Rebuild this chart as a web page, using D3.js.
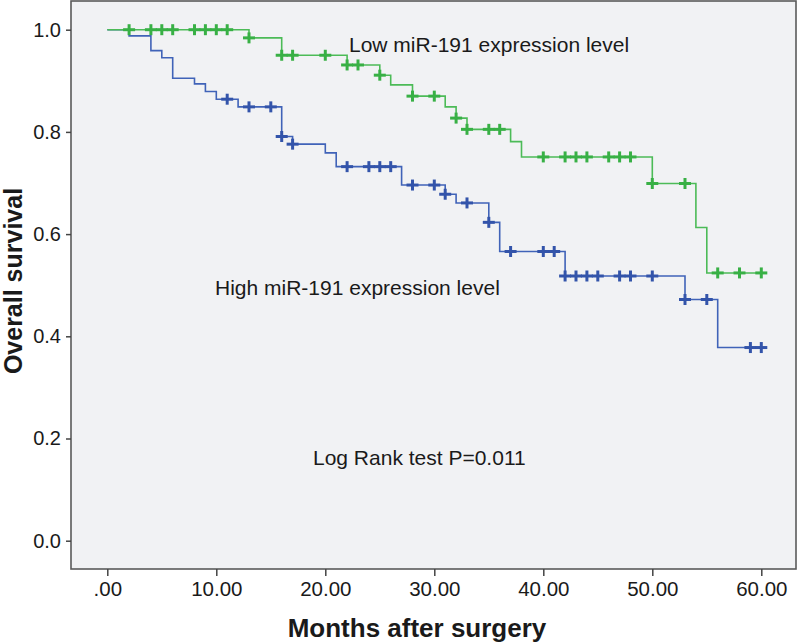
<!DOCTYPE html>
<html><head><meta charset="utf-8">
<script src="https://cdn.jsdelivr.net/npm/d3@7"></script>
<style>body{margin:0;background:#fff;}svg{display:block;font-family:Arial,"Liberation Sans",sans-serif;}</style>
</head><body>
<svg id="c" width="800" height="642"></svg>
<script>
// ---- data ----
const xTickValues = [0, 10, 20, 30, 40, 50, 60];
const xTickLabels = [".00", "10.00", "20.00", "30.00", "40.00", "50.00", "60.00"];
const yTickValues = [0, 0.2, 0.4, 0.6, 0.8, 1.0];
const yTickLabels = ["0.0", "0.2", "0.4", "0.6", "0.8", "1.0"];

const lowTimes = [0, 13, 16, 22, 25, 26, 28, 31, 32, 33, 37, 38, 50, 54, 55];
const lowSurv  = [1.0, 0.984, 0.950, 0.931, 0.911, 0.892, 0.870, 0.849, 0.827, 0.805, 0.781, 0.751, 0.699, 0.613, 0.524];
const lowCensor = [2, 4, 5, 6, 8, 9, 10, 11, 13, 16, 17, 20, 22, 23, 25, 28, 30, 32, 33, 35, 36, 40, 42, 43, 44, 46, 47, 48, 50, 53, 56, 58, 60];
const lowEnd = 60;

const highTimes = [0, 2, 4, 5, 6, 8, 9, 10, 12, 16, 17, 20, 21, 27, 31, 32, 35, 36, 42, 53, 56];
const highSurv  = [1.0, 0.988, 0.959, 0.945, 0.905, 0.894, 0.879, 0.864, 0.849, 0.791, 0.776, 0.759, 0.732, 0.696, 0.678, 0.661, 0.623, 0.566, 0.518, 0.472, 0.378];
const highCensor = [11, 13, 15, 16, 17, 22, 24, 25, 26, 28, 30, 31, 33, 35, 37, 40, 41, 42, 43, 44, 45, 47, 48, 50, 53, 55, 59, 60];
const highEnd = 60;

const lowLabel = "Low miR-191 expression level";
const highLabel = "High miR-191 expression level";
const testLabel = "Log Rank test P=0.011";
const xTitle = "Months after surgery";
const yTitle = "Overall survival";

// ---- layout ----
const svg = d3.select("#c");
const box = {left: 71, top: 1, right: 796, bottom: 569};
const x = d3.scaleLinear().domain([0, 60]).range([107.3, 761.3]);
const y = d3.scaleLinear().domain([0, 1]).range([540.7, 29.7]);

svg.append("rect").attr("x", box.left).attr("y", box.top)
  .attr("width", box.right - box.left).attr("height", box.bottom - box.top)
  .attr("fill", "#f1f2f4").attr("stroke", "#5a5a5a").attr("stroke-width", 1.6);

// axes
const xAxis = d3.axisBottom(x).tickValues(xTickValues)
  .tickFormat((d, i) => xTickLabels[i]).tickSize(7).tickSizeOuter(0).tickPadding(5);
const gx = svg.append("g").attr("transform", `translate(0,${box.bottom})`).call(xAxis);
gx.select(".domain").remove();
gx.selectAll("line").attr("stroke", "#444").attr("stroke-width", 1.5);
gx.selectAll("text").attr("font-size", 20.5).attr("fill", "#1a1a1a").attr("font-family", "Arial, 'Liberation Sans', sans-serif");

const yAxis = d3.axisLeft(y).tickValues(yTickValues)
  .tickFormat((d, i) => yTickLabels[i]).tickSize(5).tickSizeOuter(0).tickPadding(5);
const gy = svg.append("g").attr("transform", `translate(${box.left},0)`).call(yAxis);
gy.select(".domain").remove();
gy.selectAll("line").attr("stroke", "#444").attr("stroke-width", 1.5);
gy.selectAll("text").attr("font-size", 20).attr("fill", "#1a1a1a").attr("font-family", "Arial, 'Liberation Sans', sans-serif");

// titles
svg.append("text").attr("x", 417).attr("y", 637).attr("text-anchor", "middle")
  .attr("font-size", 26).attr("font-weight", "bold").attr("fill", "#1a1a1a").text(xTitle);
svg.append("text").attr("transform", "translate(22,281) rotate(-90)").attr("text-anchor", "middle")
  .attr("font-size", 25).attr("font-weight", "bold").attr("fill", "#1a1a1a").text(yTitle);

// curves
function stepPoints(times, surv, end) {
  const pts = [];
  times.forEach((t, i) => {
    if (i > 0) pts.push([t, surv[i - 1]]);
    pts.push([t, surv[i]]);
  });
  pts.push([end, surv[surv.length - 1]]);
  return pts;
}
function survAt(times, surv, t) {
  let s = surv[0];
  for (let i = 0; i < times.length; i++) if (times[i] <= t) s = surv[i];
  return s;
}
const line = d3.line().x(d => x(d[0])).y(d => y(d[1]));

function drawCurve(times, surv, censor, end, lineColor, crossColor) {
  const g = svg.append("g");
  g.append("path").attr("d", line(stepPoints(times, surv, end)))
    .attr("fill", "none").attr("stroke", lineColor).attr("stroke-width", 1.6);
  censor.forEach(t => {
    const cx = x(t), cy = y(survAt(times, surv, t));
    g.append("line").attr("x1", cx - 6).attr("x2", cx + 6).attr("y1", cy).attr("y2", cy)
      .attr("stroke", crossColor).attr("stroke-width", 3);
    g.append("line").attr("x1", cx).attr("x2", cx).attr("y1", cy - 5.5).attr("y2", cy + 5.5)
      .attr("stroke", crossColor).attr("stroke-width", 3);
  });
}
drawCurve(highTimes, highSurv, highCensor, highEnd, "#4063b8", "#3354aa");
drawCurve(lowTimes, lowSurv, lowCensor, lowEnd, "#4cbb57", "#38b045");

// annotations
svg.append("text").attr("x", 349).attr("y", 51.5).attr("font-size", 21).attr("fill", "#1a1a1a").text(lowLabel);
svg.append("text").attr("x", 215).attr("y", 295).attr("font-size", 21).attr("fill", "#1a1a1a").text(highLabel);
svg.append("text").attr("x", 313).attr("y", 465).attr("font-size", 21).attr("fill", "#1a1a1a").text(testLabel);
</script>
</body></html>
